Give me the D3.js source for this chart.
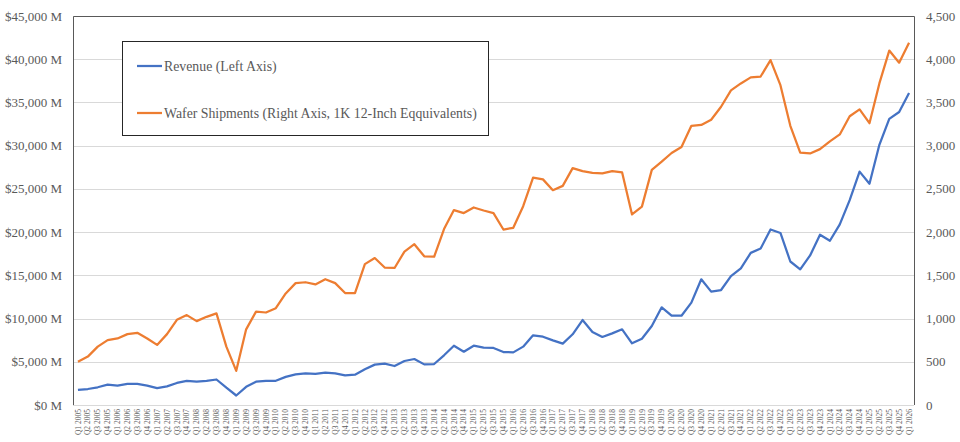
<!DOCTYPE html>
<html lang="en">
<head>
<meta charset="utf-8">
<script src="https://d3js.org/d3.v7.min.js"></script>
<style>
    body { margin: 0; background: #ffffff; }
    svg text { font-family: "Liberation Serif", "DejaVu Serif", serif; fill: #595959; }
</style>
</head>
<body>
<svg id="chart" width="960" height="442"></svg>
<script>
    // quarter labels Q1 2005 .. Q1 2026
    var years = [2005, 2006, 2007, 2008, 2009, 2010, 2011, 2012, 2013, 2014, 2015,
                 2016, 2017, 2018, 2019, 2020, 2021, 2022, 2023, 2024, 2025, 2026];
    var quarterNames = ["Q1", "Q2", "Q3", "Q4"];

    // revenue, millions USD (left axis)
    var revenue = [1750, 1850, 2050, 2350, 2250, 2450, 2450, 2250, 1950, 2150,
                   2550, 2800, 2700, 2800, 2950, 2000, 1100, 2100, 2700, 2800,
                   2800, 3250, 3550, 3670, 3590, 3740, 3670, 3430, 3510, 4130,
                   4670, 4780, 4510, 5090, 5320, 4700, 4740, 5750, 6860, 6170,
                   6860, 6630, 6600, 6130, 6090, 6750, 8060, 7900, 7480, 7100,
                   8180, 9830, 8450, 7870, 8290, 8760, 7140, 7670, 9140, 11300,
                   10330, 10330, 11840, 14540, 13110, 13300, 14900, 15800, 17600, 18100,
                   20300, 19900, 16600, 15700, 17300, 19700, 19000, 20900, 23700, 27000,
                   25600, 30100, 33100, 33900, 36100];

    // wafer shipments, 1K 12-inch equivalents (right axis)
    var wafers = [500, 560, 675, 750, 770, 820, 835, 770, 695, 820,
                  985, 1040, 970, 1020, 1060, 675, 395, 875, 1080, 1070,
                  1120, 1290, 1410, 1420, 1395, 1455, 1410, 1295, 1295, 1630,
                  1700, 1590, 1585, 1775, 1860, 1720, 1715, 2035, 2255, 2220,
                  2285, 2250, 2220, 2030, 2050, 2300, 2630, 2610, 2485, 2535,
                  2740, 2705, 2685, 2680, 2705, 2690, 2205, 2295, 2720, 2815,
                  2915, 2985, 3230, 3240, 3300, 3450, 3640, 3720, 3790, 3800,
                  3990, 3700, 3230, 2920, 2910, 2960, 3050, 3130, 3340, 3420,
                  3260, 3720, 4100, 3960, 4190];

    var leftTicks = [0, 5000, 10000, 15000, 20000, 25000, 30000, 35000, 40000, 45000];
    var rightTicks = [0, 500, 1000, 1500, 2000, 2500, 3000, 3500, 4000, 4500];

    var seriesNames = ["Revenue (Left Axis)", "Wafer Shipments (Right Axis, 1K 12-Inch Eqquivalents)"];
    var seriesColors = ["#4472C4", "#ED7D31"];

    var quarters = [];
    years.forEach(function (y) {
        quarterNames.forEach(function (q) {
            if (quarters.length < revenue.length) quarters.push(q + " " + y);
        });
    });

    var svg = d3.select("#chart");
    var plotLeft = 73, plotRight = 914, plotTop = 16, plotBottom = 405;

    var x = d3.scalePoint().domain(quarters).range([plotLeft, plotRight]).padding(0.5);
    var yL = d3.scaleLinear().domain([0, 45000]).range([plotBottom, plotTop]);
    var yR = d3.scaleLinear().domain([0, 4500]).range([plotBottom, plotTop]);

    // gridlines
    svg.selectAll(".grid")
        .data(leftTicks)
        .enter().append("line")
        .attr("class", "grid")
        .attr("x1", plotLeft).attr("x2", plotRight)
        .attr("y1", d => Math.round(yL(d)) + 0.5)
        .attr("y2", d => Math.round(yL(d)) + 0.5)
        .style("stroke", "#d9d9d9")
        .style("stroke-width", 1);

    // plot border (left, top, right)
    svg.append("path")
        .attr("d", "M" + (plotLeft + 0.5) + "," + plotBottom + "V" + (plotTop + 0.5) + "H" + (plotRight + 0.5) + "V" + plotBottom)
        .style("fill", "none")
        .style("stroke", "#595959")
        .style("stroke-width", 1);

    // left axis labels
    svg.selectAll(".ltick")
        .data(leftTicks)
        .enter().append("text")
        .attr("class", "ltick")
        .attr("x", 62)
        .attr("y", d => yL(d))
        .attr("dy", "0.35em")
        .attr("text-anchor", "end")
        .style("font-size", "13px")
        .text(d => "$" + d3.format(",")(d) + " M");

    // right axis labels
    svg.selectAll(".rtick")
        .data(rightTicks)
        .enter().append("text")
        .attr("class", "rtick")
        .attr("x", 926)
        .attr("y", d => yR(d))
        .attr("dy", "0.35em")
        .attr("text-anchor", "start")
        .style("font-size", "13px")
        .text(d => d3.format(",")(d));

    // quarter labels, rotated
    svg.selectAll(".xtick")
        .data(quarters)
        .enter().append("text")
        .attr("class", "xtick")
        .attr("transform", d => "translate(" + x(d) + "," + (plotBottom + 4) + ") rotate(-90)")
        .attr("dy", "0.35em")
        .attr("text-anchor", "end")
        .style("font-size", "7.5px")
        .text(d => d);

    // lines
    var lineL = d3.line().x((d, i) => x(quarters[i])).y(d => yL(d));
    var lineR = d3.line().x((d, i) => x(quarters[i])).y(d => yR(d));

    svg.append("path")
        .datum(wafers)
        .attr("d", lineR)
        .style("fill", "none")
        .style("stroke", seriesColors[1])
        .style("stroke-width", 2.25)
        .style("stroke-linejoin", "round");

    svg.append("path")
        .datum(revenue)
        .attr("d", lineL)
        .style("fill", "none")
        .style("stroke", seriesColors[0])
        .style("stroke-width", 2.25)
        .style("stroke-linejoin", "round");

    // legend
    var legend = svg.append("g");
    legend.append("rect")
        .attr("x", 122.5).attr("y", 41.5)
        .attr("width", 366).attr("height", 94)
        .style("fill", "#ffffff")
        .style("stroke", "#262626")
        .style("stroke-width", 1);

    var legendY = [66, 113];
    seriesNames.forEach(function (name, i) {
        legend.append("line")
            .attr("x1", 137).attr("x2", 162)
            .attr("y1", legendY[i]).attr("y2", legendY[i])
            .style("stroke", seriesColors[i])
            .style("stroke-width", 2.25);
        legend.append("text")
            .attr("x", 164)
            .attr("y", legendY[i])
            .attr("dy", "0.35em")
            .style("font-size", "13.8px")
            .text(name);
    });
</script>
</body>
</html>
